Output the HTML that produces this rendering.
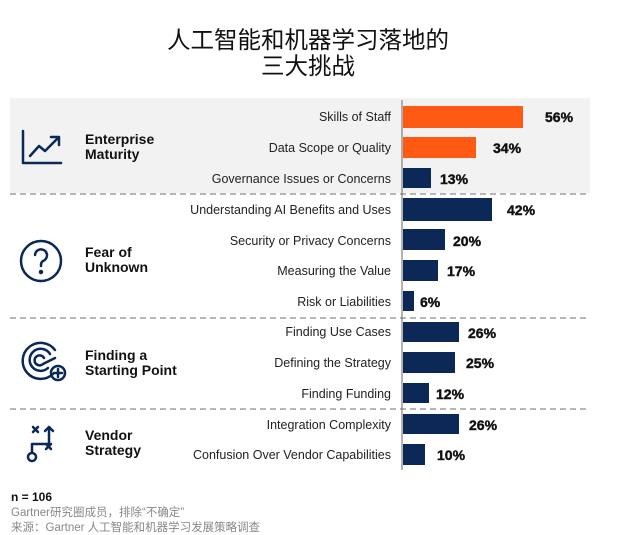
<!DOCTYPE html>
<html><head><meta charset="utf-8"><style>
body{margin:0;background:#fff;width:621px;height:535px;overflow:hidden}
svg{display:block}
text{font-family:"Liberation Sans","Noto Sans CJK SC",sans-serif}
</style></head><body>
<svg width="621" height="535" viewBox="0 0 621 535">
<text x="308" y="48" font-size="23.5" text-anchor="middle" fill="#111">人工智能和机器学习落地的</text>
<text x="308" y="74" font-size="23.5" text-anchor="middle" fill="#111">三大挑战</text>
<rect x="10" y="98" width="580" height="95" fill="#f2f2f2"/>
<g stroke="#8c8c8c" stroke-width="1.3" stroke-dasharray="6,4">
<line x1="10" y1="194" x2="590" y2="194"/>
<line x1="10" y1="318" x2="590" y2="318"/>
<line x1="10" y1="409" x2="590" y2="409"/>
</g>
<line x1="402" y1="100" x2="402" y2="470" stroke="#666" stroke-width="1"/>
<g fill="#fe5a13">
<rect x="403" y="106" width="120" height="22"/>
<rect x="403" y="137" width="73" height="21"/>
</g>
<g fill="#0b2857">
<rect x="403" y="168" width="28" height="20"/>
<rect x="403" y="198" width="89" height="23"/>
<rect x="403" y="229" width="42" height="21"/>
<rect x="403" y="260" width="35" height="21"/>
<rect x="403" y="291" width="11" height="20"/>
<rect x="403" y="322" width="56" height="20"/>
<rect x="403" y="352" width="52" height="21"/>
<rect x="403" y="383" width="26" height="20"/>
<rect x="403" y="414" width="56" height="20"/>
<rect x="403" y="444" width="22" height="21"/>
</g>
<g font-size="12.5" text-anchor="end" fill="#222">
<text x="391" y="121">Skills of Staff</text>
<text x="391" y="152">Data Scope or Quality</text>
<text x="391" y="183">Governance Issues or Concerns</text>
<text x="391" y="214">Understanding AI Benefits and Uses</text>
<text x="391" y="245">Security or Privacy Concerns</text>
<text x="391" y="275">Measuring the Value</text>
<text x="391" y="306">Risk or Liabilities</text>
<text x="391" y="336">Finding Use Cases</text>
<text x="391" y="367">Defining the Strategy</text>
<text x="391" y="398">Finding Funding</text>
<text x="391" y="429">Integration Complexity</text>
<text x="391" y="459">Confusion Over Vendor Capabilities</text>
</g>
<g font-size="14" font-weight="bold" fill="#111" stroke="#111" stroke-width="0.4">
<text x="545" y="122">56%</text>
<text x="493" y="153">34%</text>
<text x="440" y="184">13%</text>
<text x="507" y="215">42%</text>
<text x="453" y="246">20%</text>
<text x="447" y="276">17%</text>
<text x="420" y="307">6%</text>
<text x="468" y="338">26%</text>
<text x="466" y="368">25%</text>
<text x="436" y="399">12%</text>
<text x="469" y="430">26%</text>
<text x="437" y="460">10%</text>
</g>
<g font-size="14" font-weight="bold" fill="#111">
<text x="85" y="144">Enterprise</text><text x="85" y="159">Maturity</text>
<text x="85" y="257">Fear of</text><text x="85" y="272">Unknown</text>
<text x="85" y="360">Finding a</text><text x="85" y="375">Starting Point</text>
<text x="85" y="440">Vendor</text><text x="85" y="455">Strategy</text>
</g>
<g stroke="#0b2857" stroke-width="2.5" fill="none" stroke-linecap="round" stroke-linejoin="round">
<polyline points="23,131 23,163 61,163"/>
<polyline points="30,156 39,146 45,151 58,138"/>
<polyline points="51,137 59,137 59,145"/>
<circle cx="41" cy="261" r="20"/>
<path d="M35,255 a6,6 0 1 1 8,6 c-2,1 -2,3 -2,5"/>
<circle cx="41" cy="272" r="1" fill="#0b2857"/>
<path d="M55,350 a18,18 0 1 0 -2,24"/>
<path d="M50,354 a11,11 0 1 0 -2,14"/>
<path d="M44,358 a5,5 0 1 0 -1,6 L55,358"/>
<circle cx="58" cy="373" r="7"/>
<path d="M58,369 v8 M54,373 h8"/>
<path d="M33,427 l5,5 M38,427 l-5,5 M46,444 l5,5 M51,444 l-5,5"/>
<path d="M32,452 v-8 h17 v-17 M45,431 l4,-4 l4,4"/>
<circle cx="32" cy="457" r="4"/>
</g>
<text x="11" y="501" font-size="12" font-weight="bold" fill="#111">n = 106</text>
<text x="11" y="516" font-size="11.5" fill="#888">Gartner研究圈成员，排除“不确定”</text>
<text x="11" y="531" font-size="11.5" fill="#888">来源：Gartner 人工智能和机器学习发展策略调查</text>
</svg>
</body></html>
